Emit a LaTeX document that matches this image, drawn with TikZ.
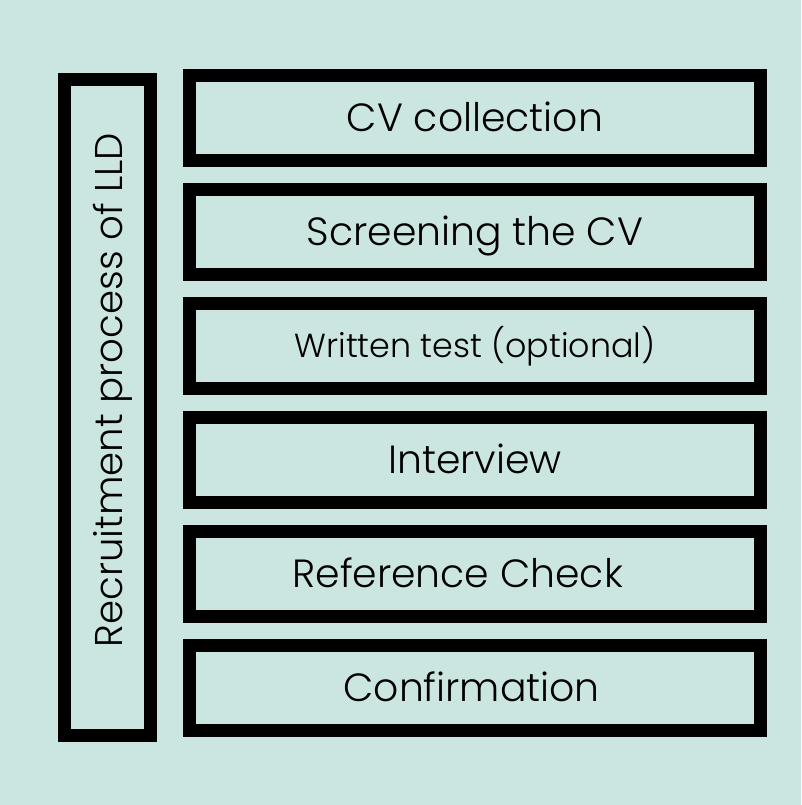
\documentclass[tikz,border=0pt]{standalone}
\usepackage{fontspec}
\setmainfont{Poppins}[UprightFont=* Light]
\usetikzlibrary{positioning}
\definecolor{mint}{RGB}{203,230,224}
\tikzset{
  box/.style = {draw=black, line width=9.75pt, inner sep=0pt},
  stage/.style = {box, minimum width=428.25pt, minimum height=63.75pt,
    text height=20.6pt, text depth=0pt, font=\fontsize{29.5}{34}\selectfont},
  small/.style = {text height=17.5pt, font=\fontsize{25}{30}\selectfont},
  title/.style = {box, minimum width=492pt, minimum height=64.5pt},
  titletext/.style = {inner sep=0pt, text height=20.3pt, text depth=0pt,
    font=\fontsize{29}{34}\selectfont}
}

\begin{document}
\begin{tikzpicture}[x=0.75pt, y=-0.75pt, node distance=12pt]
\fill [mint] (0,0) rectangle (801,805);
% tall side box with its upright title
\node [title, rotate=90] (lld) at (107.5,407.5) {};
\node [titletext, rotate=90] (lldtext) at (109,390) {Recruitment process of LLD};
% the six steps
\node [stage] (cv) at (475,118) {CV collection};
\node [stage, below=of cv] (screen) {Screening the CV};
\node [stage, small, below=of screen] (test) {Written test (optional)};
\node [stage, below=of test] (interview) {Interview};
\node [stage, below=of interview] (refcheck) {Reference Check\hspace*{26pt}};
\node [stage, below=of refcheck] (confirm) {Confirmation\hspace*{5pt}};
\end{tikzpicture}
\end{document}
